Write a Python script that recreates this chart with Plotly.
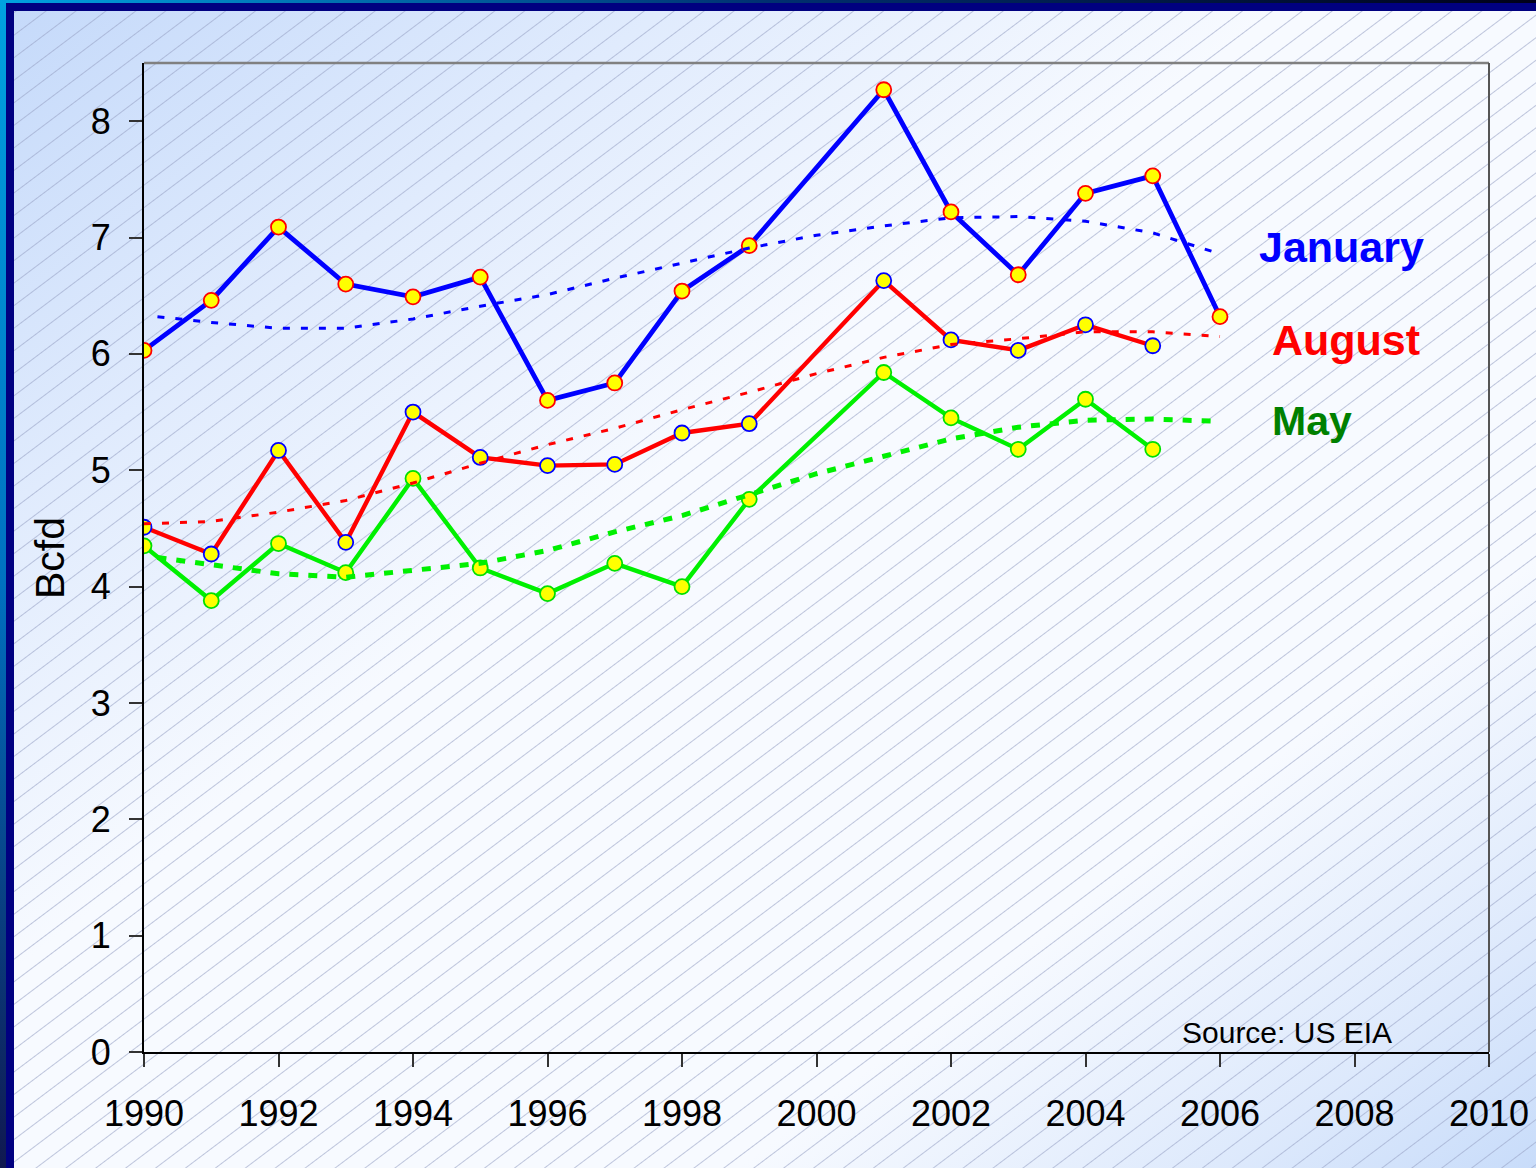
import base64
import plotly.graph_objects as go

# ---------------- data ----------------
years = [1990, 1991, 1992, 1993, 1994, 1995, 1996, 1997, 1998, 1999,
         2001, 2002, 2003, 2004, 2005, 2006]
january = [6.03, 6.46, 7.09, 6.60, 6.49, 6.66, 5.60, 5.75, 6.54, 6.93,
           8.27, 7.22, 6.68, 7.38, 7.53, 6.32]

years_aug = [1990, 1991, 1992, 1993, 1994, 1995, 1996, 1997, 1998, 1999,
             2001, 2002, 2003, 2004, 2005]
august = [4.51, 4.28, 5.17, 4.38, 5.50, 5.11, 5.04, 5.05, 5.32, 5.40,
          6.63, 6.12, 6.03, 6.25, 6.07]

years_may = [1990, 1991, 1992, 1993, 1994, 1995, 1996, 1997, 1998, 1999,
             2001, 2002, 2003, 2004, 2005]
may = [4.35, 3.88, 4.37, 4.12, 4.93, 4.16, 3.94, 4.20, 4.00, 4.75,
       5.84, 5.45, 5.18, 5.61, 5.18]

# trend lines
trend_years_a = [1990.2, 1991, 1992, 1993, 1994, 1995, 1996, 1997, 1998,
                 1999, 2000, 2001, 2002, 2003, 2004, 2005, 2006]
trend_jan = [6.32, 6.27, 6.22, 6.22, 6.30, 6.41, 6.51, 6.65, 6.78,
             6.91, 7.02, 7.10, 7.17, 7.18, 7.14, 7.04, 6.86]
trend_may = [4.25, 4.19, 4.11, 4.08, 4.14, 4.20, 4.31, 4.47, 4.61,
             4.79, 4.97, 5.12, 5.27, 5.37, 5.43, 5.44, 5.42]
trend_years_b = [1990, 1991, 1992, 1993, 1994, 1995, 1996, 1997, 1998,
                 1999, 2000, 2001, 2002, 2003, 2004, 2005, 2006]
trend_aug = [4.54, 4.56, 4.64, 4.74, 4.89, 5.06, 5.22, 5.36, 5.52,
             5.67, 5.83, 5.97, 6.08, 6.13, 6.19, 6.19, 6.15]

y_ticks = [0, 1, 2, 3, 4, 5, 6, 7, 8]
x_ticks = [1990, 1992, 1994, 1996, 1998, 2000, 2002, 2004, 2006, 2008, 2010]

series_labels = ["January", "August", "May"]
source_text = "Source: US EIA"
y_title = "Bcfd"

# ---------------- layout geometry ----------------
W, H = 1536, 1168
ML, MR, MT, MB = 144, 47, 63, 116
PW, PH = W - ML - MR, H - MT - MB

FONT = "Liberation Sans, Arial, sans-serif"

# background svg: diagonal gradient + hatch + frame strips
svg = f'''<svg xmlns="http://www.w3.org/2000/svg" width="{W}" height="{H}" viewBox="0 0 {W} {H}" preserveAspectRatio="none">
<defs>
<linearGradient id="g" x1="0" y1="0" x2="1" y2="1">
<stop offset="0" stop-color="#C4D9FA"/>
<stop offset="0.22" stop-color="#E0EBFD"/>
<stop offset="0.42" stop-color="#F7FAFF"/>
<stop offset="0.74" stop-color="#F7FAFF"/>
<stop offset="0.9" stop-color="#DDE9FC"/>
<stop offset="1" stop-color="#C8DCFA"/>
</linearGradient>
<pattern id="h" width="18" height="18" patternUnits="userSpaceOnUse" patternTransform="rotate(-37)">
<line x1="0" y1="0.5" x2="18" y2="0.5" stroke="#98a2c4" stroke-opacity="0.6" stroke-width="1"/>
</pattern>
<linearGradient id="lv" x1="0" y1="0" x2="0" y2="1">
<stop offset="0" stop-color="#00A2E0"/>
<stop offset="0.5" stop-color="#0070C0"/>
<stop offset="1" stop-color="#101850"/>
</linearGradient>
<linearGradient id="th" x1="0" y1="0" x2="1" y2="0">
<stop offset="0" stop-color="#00A2E0"/>
<stop offset="0.5" stop-color="#003070"/>
<stop offset="1" stop-color="#000018"/>
</linearGradient>
</defs>
<rect x="0" y="0" width="{W}" height="{H}" fill="url(#g)"/>
<rect x="0" y="0" width="{W}" height="{H}" fill="url(#h)"/>
<rect x="0" y="0" width="14" height="{H}" fill="#000080"/>
<rect x="0" y="0" width="{W}" height="11" fill="#000080"/>
<rect x="0" y="0" width="6" height="{H}" fill="url(#lv)"/>
<rect x="0" y="0" width="{W}" height="3" fill="url(#th)"/>
</svg>'''
bg_uri = "data:image/svg+xml;base64," + base64.b64encode(svg.encode()).decode()

fig = go.Figure()


def data_trace(x, y, color, width, edge):
    return go.Scatter(
        x=x, y=y, mode="lines+markers",
        line=dict(color=color, width=width),
        marker=dict(size=15, color="#FFFF00", line=dict(color=edge, width=1.8)),
        showlegend=False, hoverinfo="skip",
    )


fig.add_trace(data_trace(years, january, "#0000FF", 4.8, "#FF0000"))
fig.add_trace(data_trace(years_aug, august, "#FF0000", 4.4, "#0000FF"))
fig.add_trace(data_trace(years_may, may, "#00F000", 4.4, "#00E000"))

fig.add_trace(go.Scatter(x=trend_years_a, y=trend_jan, mode="lines",
                         line=dict(color="#0000FF", width=3, dash="7px,11px"),
                         showlegend=False, hoverinfo="skip"))
fig.add_trace(go.Scatter(x=trend_years_b, y=trend_aug, mode="lines",
                         line=dict(color="#FF0000", width=3, dash="7px,11px"),
                         showlegend=False, hoverinfo="skip"))
fig.add_trace(go.Scatter(x=trend_years_a, y=trend_may, mode="lines",
                         line=dict(color="#00F000", width=5, dash="9px,10px"),
                         showlegend=False, hoverinfo="skip"))

fig.update_layout(
    width=W, height=H, autosize=False,
    margin=dict(l=ML, r=MR, t=MT, b=MB, pad=0),
    paper_bgcolor="#FFFFFF",
    plot_bgcolor="rgba(0,0,0,0)",
    font=dict(family=FONT, size=36, color="#000000"),
    images=[dict(source=bg_uri, xref="paper", yref="paper",
                 x=-ML / PW, y=1 + MT / PH, sizex=W / PW, sizey=H / PH,
                 xanchor="left", yanchor="top", sizing="stretch",
                 layer="below")],
    xaxis=dict(range=[1990, 2010], tickvals=x_ticks,
               ticktext=[str(v) for v in x_ticks],
               showgrid=False, zeroline=False, automargin=False,
               showline=True, linecolor="#000000", linewidth=2,
               ticks="outside", ticklen=13, tickwidth=1.5, tickcolor="#333333",
               tickfont=dict(size=36, family=FONT, color="#000000"),
               ticklabelstandoff=16),
    yaxis=dict(range=[0, 8.5], tickvals=y_ticks,
               showgrid=False, zeroline=False, automargin=False,
               showline=True, linecolor="#000000", linewidth=2,
               ticks="outside", ticklen=13, tickwidth=1.5, tickcolor="#333333",
               tickfont=dict(size=36, family=FONT, color="#000000"),
               ticklabelstandoff=11),
    shapes=[
        dict(type="line", xref="paper", yref="paper", x0=0, x1=1, y0=1, y1=1,
             line=dict(color="#808080", width=2.5)),
        dict(type="line", xref="paper", yref="paper", x0=1, x1=1, y0=0, y1=1,
             line=dict(color="#555555", width=2)),
    ],
)

ann = []
ann.append(dict(text=y_title, xref="paper", yref="paper", x=0, y=(1052 - 558) / PH,
                xshift=-94, xanchor="center", yanchor="middle", textangle=-90,
                showarrow=False, font=dict(size=41, family=FONT, color="#000000")))
ann.append(dict(text=source_text, xref="x", yref="y", x=2005.4, y=0.17,
                xanchor="left", yanchor="middle", showarrow=False,
                font=dict(size=30, family=FONT, color="#000000")))
label_pos = [(2006.55, 6.92, "#0000FF", 43), (2006.75, 6.12, "#FF0000", 43),
             (2006.75, 5.42, "#008000", 41)]
for lab, (lx, ly, col, fs) in zip(series_labels, label_pos):
    ann.append(dict(text=f"<b>{lab}</b>", xref="x", yref="y", x=lx, y=ly,
                    xanchor="left", yanchor="middle", showarrow=False,
                    font=dict(size=fs, family=FONT, color=col)))
fig.update_layout(annotations=ann)

fig.write_html("out.html",
               config={"responsive": False, "displayModeBar": False},
               post_script="document.body.style.margin='0';"
                           "document.body.style.overflow='hidden';")
